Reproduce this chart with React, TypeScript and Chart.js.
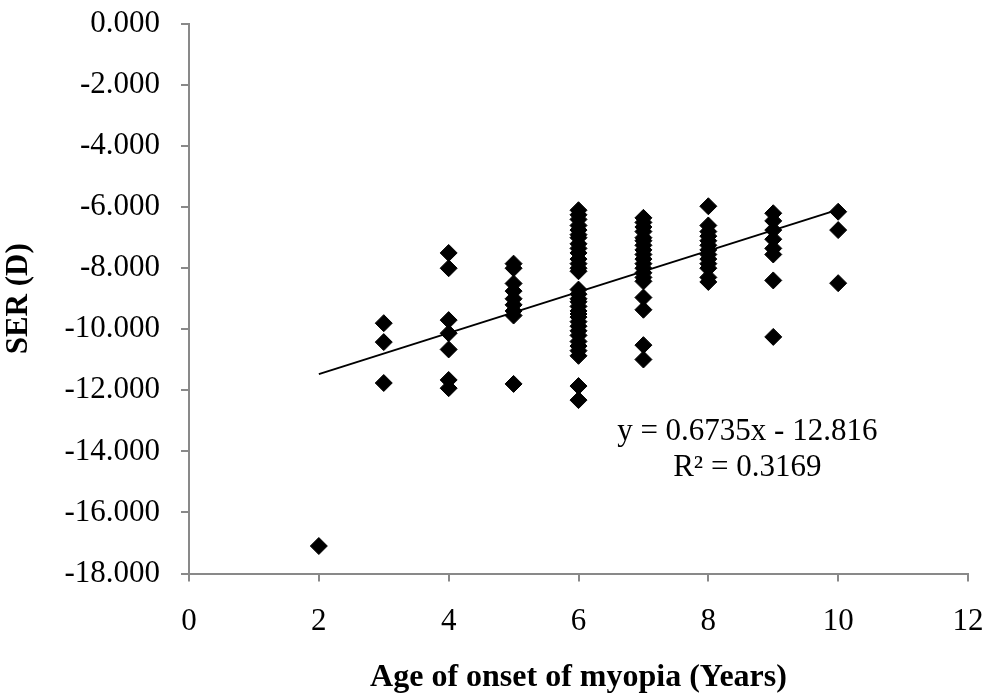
import React, { useEffect, useRef } from "react";
import { Chart, registerables } from "chart.js";

Chart.register(...registerables);

// Age of onset (years) for each group of points
const AGE_2 = [-17.1];
const AGE_3 = [-9.8, -10.42, -11.76];
const AGE_4 = [-7.5, -8.0, -9.7, -10.13, -10.66, -11.66, -11.93];
const AGE_5 = [-7.85, -8.0, -8.5, -8.75, -9.0, -9.2, -9.4, -9.55, -11.79];
const AGE_6 = [
  -6.1, -6.25, -6.4, -6.6, -6.75, -6.9, -7.0, -7.2, -7.35, -7.5, -7.7, -7.85, -8.0, -8.1,
  -8.7, -8.85, -9.0, -9.1, -9.25, -9.4, -9.5, -9.6, -9.75, -9.9, -10.05, -10.2, -10.4,
  -10.55, -10.7, -10.87, -11.86, -12.32,
];
const AGE_7 = [
  -6.35, -6.5, -6.65, -6.8, -7.0, -7.1, -7.25, -7.4, -7.55, -7.7, -7.85, -8.0, -8.15,
  -8.3, -8.43, -8.96, -9.36, -10.52, -10.99,
];
const AGE_8 = [-5.97, -6.6, -6.8, -6.95, -7.1, -7.25, -7.4, -7.55, -7.7, -7.85, -8.0, -8.3, -8.45];
const AGE_9 = [-6.2, -6.45, -6.75, -7.05, -7.35, -7.55, -8.4, -10.25];
const AGE_10 = [-6.15, -6.75, -8.49];

const GROUP_AGES = [2, 3, 4, 5, 6, 7, 8, 9, 10];
const GROUP_SER = [AGE_2, AGE_3, AGE_4, AGE_5, AGE_6, AGE_7, AGE_8, AGE_9, AGE_10];

// Linear trendline as displayed
const SLOPE = 0.6735;
const INTERCEPT = -12.816;
const TREND_X = [2, 10];
const EQUATION_LINES = ["y = 0.6735x - 12.816", "R\u00b2 = 0.3169"];
const EQUATION_POS = { x: 8.6, y: [-13.36, -14.54] };

const X_TITLE = "Age of onset of myopia (Years)";
const Y_TITLE = "SER (D)";

const FONT = '"Liberation Serif", "Times New Roman", serif';
const AXIS_COLOR = "#898989";

export default function App() {
  const ref = useRef<HTMLCanvasElement | null>(null);

  useEffect(() => {
    if (!ref.current) return;
    const points: { x: number; y: number }[] = [];
    GROUP_AGES.forEach((age, i) => {
      GROUP_SER[i].forEach((v) => points.push({ x: age, y: v }));
    });
    const trend = TREND_X.map((x) => ({ x, y: SLOPE * x + INTERCEPT }));

    const equationPlugin = {
      id: "equation",
      afterDatasetsDraw(chart: any) {
        const { ctx, scales } = chart;
        ctx.save();
        ctx.fillStyle = "#000";
        ctx.font = `31px ${FONT}`;
        ctx.textAlign = "center";
        ctx.textBaseline = "middle";
        EQUATION_LINES.forEach((t, i) => {
          ctx.fillText(t, scales.x.getPixelForValue(EQUATION_POS.x), scales.y.getPixelForValue(EQUATION_POS.y[i]));
        });
        ctx.restore();
      },
    };

    const chart = new Chart(ref.current, {
      type: "scatter",
      data: {
        datasets: [
          {
            type: "scatter",
            data: points,
            pointStyle: "rectRot",
            pointRadius: 8.5,
            pointBackgroundColor: "#000",
            pointBorderColor: "#000",
            pointBorderWidth: 1,
          },
          {
            type: "line",
            data: trend,
            borderColor: "#000",
            borderWidth: 2,
            pointRadius: 0,
            fill: false,
          },
        ],
      },
      options: {
        animation: false,
        responsive: true,
        maintainAspectRatio: false,
        layout: { padding: { left: 0, top: 24, right: 21, bottom: 0 } },
        plugins: { legend: { display: false }, tooltip: { enabled: false } },
        scales: {
          x: {
            type: "linear",
            min: 0,
            max: 12,
            afterFit: (s: any) => {
              s.height = 120.5;
              s.paddingLeft = 0;
              s.paddingRight = 0;
            },
            ticks: { stepSize: 2, color: "#000", font: { family: FONT, size: 31 }, padding: 22, maxRotation: 0 },
            grid: { drawOnChartArea: false, drawTicks: true, tickLength: 8, color: AXIS_COLOR, lineWidth: 2 },
            border: { display: true, color: AXIS_COLOR, width: 2 },
            title: {
              display: true,
              text: X_TITLE,
              color: "#000",
              font: { family: FONT, size: 32, weight: "bold", lineHeight: 1 },
              padding: 0,
            },
          },
          y: {
            type: "linear",
            min: -18,
            max: 0,
            afterFit: (s: any) => {
              s.width = 189;
              s.paddingTop = 0;
              s.paddingBottom = 0;
            },
            ticks: {
              stepSize: 2,
              color: "#000",
              font: { family: FONT, size: 31 },
              padding: 21,
              callback: (v: any) => Number(v).toFixed(3),
            },
            grid: { drawOnChartArea: false, drawTicks: true, tickLength: 8, color: AXIS_COLOR, lineWidth: 2 },
            border: { display: true, color: AXIS_COLOR, width: 2 },
            title: {
              display: true,
              text: Y_TITLE,
              color: "#000",
              font: { family: FONT, size: 31, weight: "bold", lineHeight: 1 },
              padding: { top: 3, bottom: 0 },
            },
          },
        },
      },
      plugins: [equationPlugin],
    });
    return () => chart.destroy();
  }, []);

  return (
    <div style={{ position: "absolute", left: 0, top: 0, width: 989, height: 694, background: "#fff" }}>
      <canvas ref={ref} />
    </div>
  );
}
